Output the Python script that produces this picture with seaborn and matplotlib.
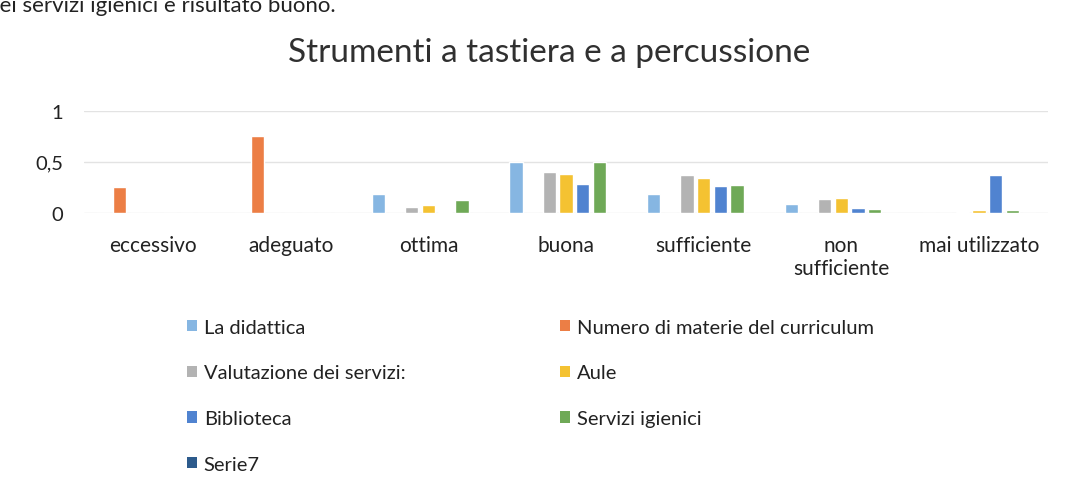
import matplotlib
matplotlib.use("Agg")
import matplotlib.pyplot as plt
import seaborn as sns
import pandas as pd
from matplotlib.patches import Patch

categories = ["eccessivo", "adeguato", "ottima", "buona", "sufficiente",
              "non\nsufficiente", "mai utilizzato"]
series_names = ["La didattica", "Numero di materie del curriculum",
                "Valutazione dei servizi:", "Aule", "Biblioteca",
                "Servizi igienici", "Serie7"]
la_didattica = [0, 0, 0.19, 0.5, 0.19, 0.09, 0]
numero_materie = [0.25, 0.75, 0, 0, 0, 0, 0]
valutazione_servizi = [0, 0, 0.06, 0.40, 0.37, 0.14, 0.01]
aule = [0, 0, 0.08, 0.38, 0.34, 0.15, 0.03]
biblioteca = [0, 0, 0.01, 0.28, 0.26, 0.05, 0.37]
servizi_igienici = [0, 0, 0.13, 0.5, 0.27, 0.04, 0.025]
serie7 = [0, 0, 0, 0, 0, 0, 0]
y_ticks = [0, 0.5, 1]
y_tick_labels = ["0", "0,5", "1"]

colors = ["#86B6E2", "#EC7E45", "#B3B3B3", "#F4C232", "#5083D0", "#6FA957", "#2D5B8C"]

all_series = [la_didattica, numero_materie, valutazione_servizi, aule,
              biblioteca, servizi_igienici, serie7]
rows = []
for name, vals in zip(series_names, all_series):
    for c, v in zip(categories, vals):
        rows.append({"cat": c, "serie": name, "val": v})
df = pd.DataFrame(rows)

sns.set_theme(style="white")
plt.rcParams["font.family"] = ["Lato", "DejaVu Sans"]

fig = plt.figure(figsize=(10.67, 4.89), dpi=100)
ax = fig.add_axes([0.079, 0.5624, 0.903, 0.2092])

sns.barplot(data=df, x="cat", y="val", hue="serie", order=categories,
            hue_order=series_names, palette=colors, width=0.85, gap=0.2,
            saturation=1, ax=ax, legend=False, errorbar=None)

ax.set_ylim(0, 1)
ax.set_xlim(-0.5, len(categories) - 0.5)
ax.set_yticks(y_ticks)
ax.set_yticklabels(y_tick_labels, fontsize=14.5, color="#222222")
ax.tick_params(axis="x", labelsize=15, colors="#222222", length=0, pad=16)
ax.tick_params(axis="y", length=0, pad=15)
ax.set_xlabel("")
ax.set_ylabel("")
for yv in y_ticks:
    ax.axhline(yv, color="#E3E3E3", lw=1, zorder=0)
for s in ax.spines.values():
    s.set_visible(False)

fig.text(0.515, 0.891, "Strumenti a tastiera e a percussione", ha="center",
         va="center", fontsize=24, color="#303030")
fig.text(-0.012, 0.987, "dei servizi igienici è risultato buono.", ha="left",
         va="center", fontsize=16, color="#222222")

handles = [Patch(facecolor=c, edgecolor="none") for c in colors]
order = [0, 2, 4, 6, 1, 3, 5]
leg = fig.legend([handles[i] for i in order], [series_names[i] for i in order],
                 ncol=2, loc="upper left", bbox_to_anchor=(0.158, 0.383),
                 frameon=False, fontsize=14.5, handlelength=0.5, handleheight=0.5,
                 handletextpad=0.35, labelspacing=1.42, columnspacing=7.65)
for t in leg.get_texts():
    t.set_color("#222222")

fig.savefig("out.png", dpi=100, facecolor="white")
